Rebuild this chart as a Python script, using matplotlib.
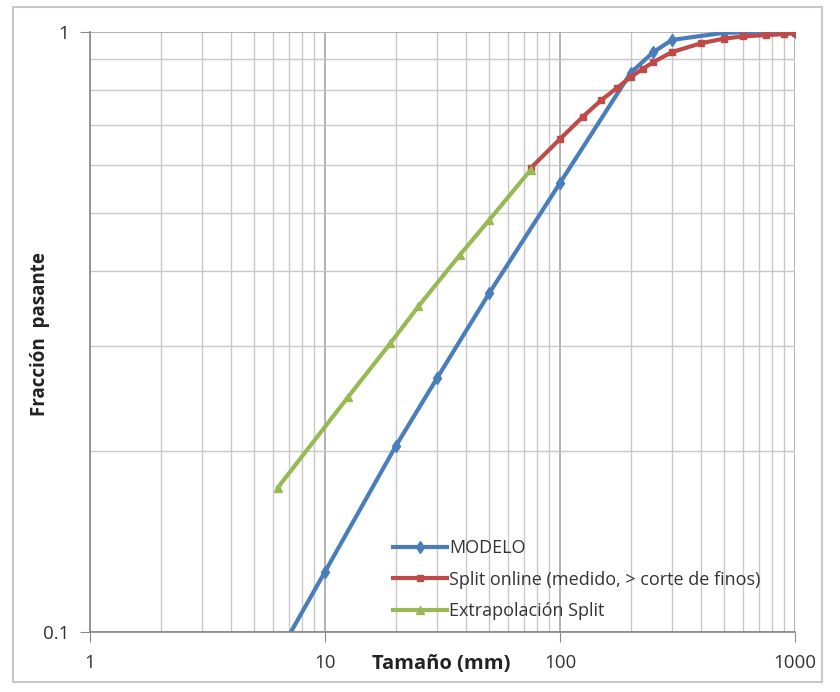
import matplotlib
matplotlib.use("Agg")
import matplotlib.pyplot as plt
from matplotlib.patches import Rectangle

plt.rcParams['font.family'] = ['Open Sans', 'DejaVu Sans']

# MODELO
modelo_x = [5, 10, 20, 30, 50, 100, 200, 250, 300, 500, 750, 1000]
modelo_y = [0.078, 0.126, 0.204, 0.265, 0.367, 0.56, 0.855, 0.926, 0.97, 0.997, 1.0, 1.0]

# Split online (medido, > corte de finos)
split_x = [75, 100, 125, 150, 175, 200, 225, 250, 300, 400, 500, 600, 750, 900, 1000]
split_y = [0.593, 0.663, 0.722, 0.770, 0.807, 0.841, 0.868, 0.891, 0.926, 0.958,
           0.975, 0.983, 0.988, 0.992, 0.995]

# Extrapolación Split
extra_x = [6.3, 12.5, 19, 25, 37.5, 50, 75]
extra_y = [0.174, 0.246, 0.303, 0.349, 0.425, 0.486, 0.589]

x_ticks = [1, 10, 100, 1000]
x_labels = ["1", "10", "100", "1000"]
y_ticks = [0.1, 1]
y_labels = ["0.1", "1"]

fig = plt.figure(figsize=(8.4, 6.92), dpi=100)
fig.patches.append(Rectangle((0.016, 0.015), 0.962, 0.975, transform=fig.transFigure,
                             facecolor="white", edgecolor="#c8c8c8", linewidth=1.5, zorder=-1))
ax = fig.add_axes([0.1071, 0.0867, 0.8393, 0.8671])
ax.set_xscale("log")
ax.set_yscale("log")
ax.set_xlim(1, 1000)
ax.set_ylim(0.1, 1)

ax.grid(True, which="major", color="#a6a6a6", linewidth=1.2)
ax.grid(True, which="minor", color="#c8c8c8", linewidth=1.0)
ax.set_axisbelow(True)

ax.plot(modelo_x, modelo_y, color="#4a7ebb", lw=3, marker="d", ms=6, label="MODELO")
ax.plot(split_x, split_y, color="#be4b48", lw=3, marker="s", ms=5,
        label="Split online (medido, > corte de finos)")
ax.plot(extra_x, extra_y, color="#98b954", lw=3, marker="^", ms=6,
        label="Extrapolación Split")

ax.set_xticks(x_ticks)
ax.set_xticklabels(x_labels)
ax.set_yticks(y_ticks)
ax.set_yticklabels(y_labels)
ax.tick_params(which="minor", length=0)
ax.tick_params(which="major", length=7, color="#888888", labelsize=13.5, labelcolor="#333333")
ax.tick_params(axis="x", pad=9)
ax.tick_params(axis="y", pad=8)
ax.xaxis.set_minor_formatter(plt.NullFormatter())
ax.yaxis.set_minor_formatter(plt.NullFormatter())

for s in ["top", "right"]:
    ax.spines[s].set_visible(False)
for s in ["left", "bottom"]:
    ax.spines[s].set_color("#888888")
    ax.spines[s].set_linewidth(1.2)

fig.text(441 / 840, 1 - 664 / 692, "Tamaño (mm)", ha="center", va="center",
         fontsize=14.5, fontweight="bold", color="#222222")
fig.text(40 / 840, 1 - 334 / 692, "Fracción  pasante", ha="center", va="center",
         rotation=90, fontsize=13.5, fontweight="bold", color="#222222")

leg = ax.legend(loc="upper left", bbox_to_anchor=(0.43, 0.155), frameon=False,
                borderaxespad=0, borderpad=0,
                fontsize=13, handlelength=3.0, handletextpad=0.1, labelspacing=0.75)
for t in leg.get_texts():
    t.set_color("#333333")

fig.savefig("out.png", dpi=100)
